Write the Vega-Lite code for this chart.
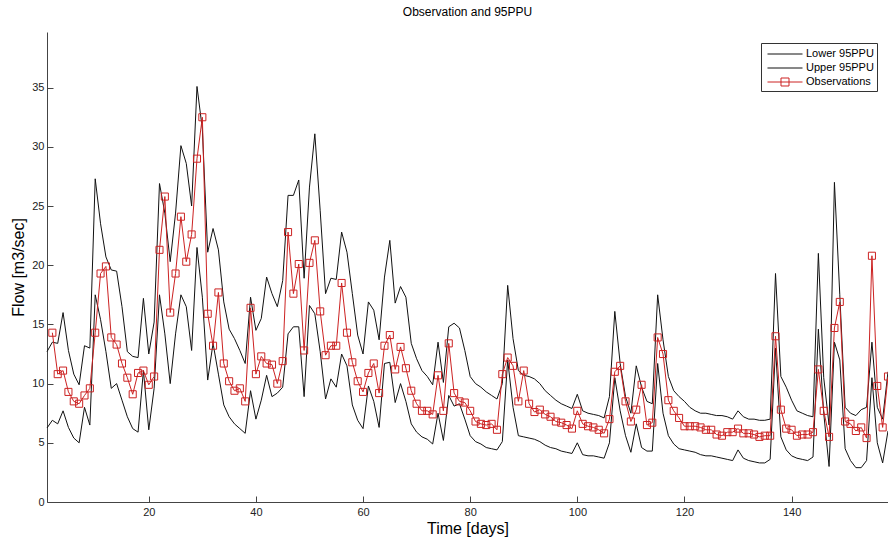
{
  "$schema": "https://vega.github.io/schema/vega-lite/v6.json",
  "width": 841,
  "height": 470,
  "autosize": {"type": "none"},
  "padding": {"left": 47, "top": 32, "right": 0, "bottom": 37},
  "background": "white",
  "title": {"text": "Observation and 95PPU", "fontSize": 12, "fontWeight": "normal", "font": "Liberation Sans", "color": "#000", "offset": 13, "anchor": "middle"},
  "config": {
    "view": {"stroke": null},
    "font": "Liberation Sans",
    "axis": {"grid": false, "domainColor": "#444", "tickColor": "#444", "labelColor": "#222", "labelFont": "Liberation Sans", "labelFontSize": 11, "tickSize": -6, "titleFont": "Liberation Sans", "titleFontSize": 16, "titleFontWeight": "normal", "titleColor": "#000"}
  },
  "data": {"values": [
    {"day":1,"lower":6.25,"upper":12.7,"obs":null},
    {"day":2,"lower":6.9,"upper":13.5,"obs":14.3},
    {"day":3,"lower":6.6,"upper":13.4,"obs":10.8},
    {"day":4,"lower":7.7,"upper":16.0,"obs":11.1},
    {"day":5,"lower":6.3,"upper":12.8,"obs":9.3},
    {"day":6,"lower":5.4,"upper":10.8,"obs":8.5},
    {"day":7,"lower":5.0,"upper":9.9,"obs":8.3},
    {"day":8,"lower":8.0,"upper":13.2,"obs":9.0},
    {"day":9,"lower":6.5,"upper":13.0,"obs":9.6},
    {"day":10,"lower":17.5,"upper":27.3,"obs":14.3},
    {"day":11,"lower":15.4,"upper":23.5,"obs":19.3},
    {"day":12,"lower":12.7,"upper":20.7,"obs":19.9},
    {"day":13,"lower":9.6,"upper":19.6,"obs":13.9},
    {"day":14,"lower":10.0,"upper":19.5,"obs":13.3},
    {"day":15,"lower":8.6,"upper":16.5,"obs":11.7},
    {"day":16,"lower":7.2,"upper":12.7,"obs":10.5},
    {"day":17,"lower":6.2,"upper":12.3,"obs":9.1},
    {"day":18,"lower":5.9,"upper":12.2,"obs":10.9},
    {"day":19,"lower":11.1,"upper":17.2,"obs":11.1},
    {"day":20,"lower":6.1,"upper":12.5,"obs":9.9},
    {"day":21,"lower":9.6,"upper":15.2,"obs":10.6},
    {"day":22,"lower":17.5,"upper":26.9,"obs":21.3},
    {"day":23,"lower":14.2,"upper":24.4,"obs":25.8},
    {"day":24,"lower":10.0,"upper":20.3,"obs":16.0},
    {"day":25,"lower":14.2,"upper":24.4,"obs":19.3},
    {"day":26,"lower":17.5,"upper":30.1,"obs":24.1},
    {"day":27,"lower":16.5,"upper":28.6,"obs":20.3},
    {"day":28,"lower":12.8,"upper":25.0,"obs":22.6},
    {"day":29,"lower":21.5,"upper":35.1,"obs":29.0},
    {"day":30,"lower":17.3,"upper":31.5,"obs":32.5},
    {"day":31,"lower":10.3,"upper":21.1,"obs":15.9},
    {"day":32,"lower":13.4,"upper":23.1,"obs":13.2},
    {"day":33,"lower":10.8,"upper":21.3,"obs":17.7},
    {"day":34,"lower":8.2,"upper":16.9,"obs":11.7},
    {"day":35,"lower":7.2,"upper":14.6,"obs":10.2},
    {"day":36,"lower":6.6,"upper":13.8,"obs":9.4},
    {"day":37,"lower":6.2,"upper":12.8,"obs":9.6},
    {"day":38,"lower":5.8,"upper":11.7,"obs":8.5},
    {"day":39,"lower":9.4,"upper":17.3,"obs":16.4},
    {"day":40,"lower":7.0,"upper":14.5,"obs":10.8},
    {"day":41,"lower":8.6,"upper":15.5,"obs":12.3},
    {"day":42,"lower":10.7,"upper":19.0,"obs":11.7},
    {"day":43,"lower":8.9,"upper":17.6,"obs":11.6},
    {"day":44,"lower":9.2,"upper":16.5,"obs":10.0},
    {"day":45,"lower":9.7,"upper":18.7,"obs":11.9},
    {"day":46,"lower":14.2,"upper":25.9,"obs":22.8},
    {"day":47,"lower":14.8,"upper":25.9,"obs":17.6},
    {"day":48,"lower":14.8,"upper":27.2,"obs":20.1},
    {"day":49,"lower":8.9,"upper":18.9,"obs":12.8},
    {"day":50,"lower":16.6,"upper":26.6,"obs":20.2},
    {"day":51,"lower":15.9,"upper":31.1,"obs":22.1},
    {"day":52,"lower":12.7,"upper":24.6,"obs":16.1},
    {"day":53,"lower":8.7,"upper":17.6,"obs":12.4},
    {"day":54,"lower":10.4,"upper":18.9,"obs":13.2},
    {"day":55,"lower":9.7,"upper":18.8,"obs":13.2},
    {"day":56,"lower":12.5,"upper":22.8,"obs":18.5},
    {"day":57,"lower":11.5,"upper":21.1,"obs":14.3},
    {"day":58,"lower":8.2,"upper":17.6,"obs":11.8},
    {"day":59,"lower":6.9,"upper":14.1,"obs":10.2},
    {"day":60,"lower":6.2,"upper":12.5,"obs":9.3},
    {"day":61,"lower":9.8,"upper":16.9,"obs":10.9},
    {"day":62,"lower":8.5,"upper":16.2,"obs":11.7},
    {"day":63,"lower":6.3,"upper":13.7,"obs":9.2},
    {"day":64,"lower":11.7,"upper":19.0,"obs":13.2},
    {"day":65,"lower":11.8,"upper":22.1,"obs":14.1},
    {"day":66,"lower":8.4,"upper":16.8,"obs":11.2},
    {"day":67,"lower":10.0,"upper":18.2,"obs":13.1},
    {"day":68,"lower":8.5,"upper":17.3,"obs":11.3},
    {"day":69,"lower":6.6,"upper":13.4,"obs":9.4},
    {"day":70,"lower":5.9,"upper":12.1,"obs":8.3},
    {"day":71,"lower":5.5,"upper":11.1,"obs":7.7},
    {"day":72,"lower":5.3,"upper":10.6,"obs":7.7},
    {"day":73,"lower":4.9,"upper":9.9,"obs":7.4},
    {"day":74,"lower":7.5,"upper":13.5,"obs":10.7},
    {"day":75,"lower":5.2,"upper":10.1,"obs":7.7},
    {"day":76,"lower":9.0,"upper":14.8,"obs":13.4},
    {"day":77,"lower":8.1,"upper":15.1,"obs":9.2},
    {"day":78,"lower":8.3,"upper":14.7,"obs":8.5},
    {"day":79,"lower":7.0,"upper":12.8,"obs":8.4},
    {"day":80,"lower":5.6,"upper":10.6,"obs":7.7},
    {"day":81,"lower":5.1,"upper":10.0,"obs":6.8},
    {"day":82,"lower":4.9,"upper":9.7,"obs":6.6},
    {"day":83,"lower":4.6,"upper":9.3,"obs":6.5},
    {"day":84,"lower":4.5,"upper":9.0,"obs":6.6},
    {"day":85,"lower":4.4,"upper":8.7,"obs":6.1},
    {"day":86,"lower":5.1,"upper":10.0,"obs":10.8},
    {"day":87,"lower":12.0,"upper":18.3,"obs":12.2},
    {"day":88,"lower":8.0,"upper":13.8,"obs":11.5},
    {"day":89,"lower":5.6,"upper":11.1,"obs":8.5},
    {"day":90,"lower":5.5,"upper":10.7,"obs":11.1},
    {"day":91,"lower":5.4,"upper":10.6,"obs":8.3},
    {"day":92,"lower":5.3,"upper":10.4,"obs":7.6},
    {"day":93,"lower":5.1,"upper":10.0,"obs":7.8},
    {"day":94,"lower":4.8,"upper":9.4,"obs":7.4},
    {"day":95,"lower":4.6,"upper":9.0,"obs":7.2},
    {"day":96,"lower":4.5,"upper":8.6,"obs":6.8},
    {"day":97,"lower":4.3,"upper":8.3,"obs":6.7},
    {"day":98,"lower":4.2,"upper":8.1,"obs":6.5},
    {"day":99,"lower":4.1,"upper":7.9,"obs":6.2},
    {"day":100,"lower":5.0,"upper":9.1,"obs":7.7},
    {"day":101,"lower":4.0,"upper":7.7,"obs":6.6},
    {"day":102,"lower":3.9,"upper":7.5,"obs":6.4},
    {"day":103,"lower":3.9,"upper":7.4,"obs":6.3},
    {"day":104,"lower":3.8,"upper":7.3,"obs":6.1},
    {"day":105,"lower":3.7,"upper":7.1,"obs":5.8},
    {"day":106,"lower":5.0,"upper":8.9,"obs":7.0},
    {"day":107,"lower":10.5,"upper":16.1,"obs":11.0},
    {"day":108,"lower":7.7,"upper":11.7,"obs":11.5},
    {"day":109,"lower":5.6,"upper":8.9,"obs":8.5},
    {"day":110,"lower":4.2,"upper":7.5,"obs":6.8},
    {"day":111,"lower":6.6,"upper":11.5,"obs":7.8},
    {"day":112,"lower":4.6,"upper":9.7,"obs":9.9},
    {"day":113,"lower":4.3,"upper":8.5,"obs":6.5},
    {"day":114,"lower":4.3,"upper":8.3,"obs":6.7},
    {"day":115,"lower":11.7,"upper":17.5,"obs":13.9},
    {"day":116,"lower":7.5,"upper":13.7,"obs":12.5},
    {"day":117,"lower":5.6,"upper":10.6,"obs":8.6},
    {"day":118,"lower":4.9,"upper":9.4,"obs":7.7},
    {"day":119,"lower":4.5,"upper":8.9,"obs":7.1},
    {"day":120,"lower":4.4,"upper":8.5,"obs":6.4},
    {"day":121,"lower":4.3,"upper":8.0,"obs":6.4},
    {"day":122,"lower":4.2,"upper":7.7,"obs":6.4},
    {"day":123,"lower":4.0,"upper":7.5,"obs":6.3},
    {"day":124,"lower":3.9,"upper":7.5,"obs":6.1},
    {"day":125,"lower":3.9,"upper":7.4,"obs":6.1},
    {"day":126,"lower":3.8,"upper":7.3,"obs":5.7},
    {"day":127,"lower":3.7,"upper":7.3,"obs":5.6},
    {"day":128,"lower":3.6,"upper":7.2,"obs":5.9},
    {"day":129,"lower":3.5,"upper":7.0,"obs":5.9},
    {"day":130,"lower":4.4,"upper":7.7,"obs":6.2},
    {"day":131,"lower":3.7,"upper":7.2,"obs":5.8},
    {"day":132,"lower":3.5,"upper":7.0,"obs":5.8},
    {"day":133,"lower":3.4,"upper":7.0,"obs":5.7},
    {"day":134,"lower":3.3,"upper":6.9,"obs":5.5},
    {"day":135,"lower":3.3,"upper":6.9,"obs":5.6},
    {"day":136,"lower":3.6,"upper":7.0,"obs":5.6},
    {"day":137,"lower":13.0,"upper":19.3,"obs":14.0},
    {"day":138,"lower":5.5,"upper":10.6,"obs":7.8},
    {"day":139,"lower":4.4,"upper":9.7,"obs":6.2},
    {"day":140,"lower":3.9,"upper":8.6,"obs":6.1},
    {"day":141,"lower":3.7,"upper":7.7,"obs":5.6},
    {"day":142,"lower":3.6,"upper":7.5,"obs":5.7},
    {"day":143,"lower":3.5,"upper":7.3,"obs":5.7},
    {"day":144,"lower":3.8,"upper":7.2,"obs":5.9},
    {"day":145,"lower":14.6,"upper":21.0,"obs":11.2},
    {"day":146,"lower":7.5,"upper":10.5,"obs":7.7},
    {"day":147,"lower":3.0,"upper":6.5,"obs":5.5},
    {"day":148,"lower":13.5,"upper":27.0,"obs":14.7},
    {"day":149,"lower":12.0,"upper":17.5,"obs":16.9},
    {"day":150,"lower":4.5,"upper":8.0,"obs":6.8},
    {"day":151,"lower":3.5,"upper":7.5,"obs":6.6},
    {"day":152,"lower":2.9,"upper":7.3,"obs":6.0},
    {"day":153,"lower":2.9,"upper":7.8,"obs":6.3},
    {"day":154,"lower":3.5,"upper":8.0,"obs":5.4},
    {"day":155,"lower":10.5,"upper":13.5,"obs":20.8},
    {"day":156,"lower":5.0,"upper":8.0,"obs":9.8},
    {"day":157,"lower":3.3,"upper":7.0,"obs":6.3},
    {"day":158,"lower":6.0,"upper":11.0,"obs":10.6}
  ]},
  "encoding": {
    "x": {"field": "day", "type": "quantitative", "scale": {"domain": [1, 158], "nice": false, "zero": false},
      "axis": {"values": [20, 40, 60, 80, 100, 120, 140], "title": "Time [days]", "labelPadding": 10, "titlePadding": 3}}
  },
  "layer": [
    {
      "mark": {"type": "line", "strokeWidth": 1},
      "encoding": {
        "y": {"field": "lower", "type": "quantitative", "scale": {"domain": [0, 39.7], "nice": false, "zero": true},
          "axis": {"values": [0, 5, 10, 15, 20, 25, 30, 35], "title": "Flow [m3/sec]", "labelPadding": 9, "titlePadding": 5}},
        "color": {"datum": "Lower 95PPU",
          "scale": {"domain": ["Lower 95PPU", "Upper 95PPU", "Observations"], "range": ["#111111", "#111111", "#cc2222"]},
          "legend": {"orient": "top-right", "offset": 11, "title": null, "padding": 3, "strokeColor": "#333", "fillColor": "#ffffff",
            "symbolSize": 225, "symbolOffset": 23, "labelOffset": 3, "labelFontSize": 11, "labelFont": "Liberation Sans", "labelColor": "#000",
            "rowPadding": 1, "symbolStrokeWidth": 1,
            "encode": {"symbols": {"update": {
              "shape": {"signal": "datum.value === 'Observations' ? 'M-3.667,0H1M-1.867,-0.533H-0.8V0.533H-1.867Z' : 'M-3.667,0H1'"},
              "fill": {"value": "transparent"}, "strokeWidth": {"value": 1}}}}}}
      }
    },
    {
      "mark": {"type": "line", "strokeWidth": 1},
      "encoding": {
        "y": {"field": "upper", "type": "quantitative"},
        "color": {"datum": "Upper 95PPU"}
      }
    },
    {
      "mark": {"type": "line", "strokeWidth": 1},
      "encoding": {
        "y": {"field": "obs", "type": "quantitative"},
        "color": {"datum": "Observations"}
      }
    },
    {
      "mark": {"type": "point", "shape": "square", "filled": false, "size": 50, "strokeWidth": 1, "opacity": 1},
      "encoding": {
        "y": {"field": "obs", "type": "quantitative"},
        "color": {"datum": "Observations"}
      }
    }
  ]
}
